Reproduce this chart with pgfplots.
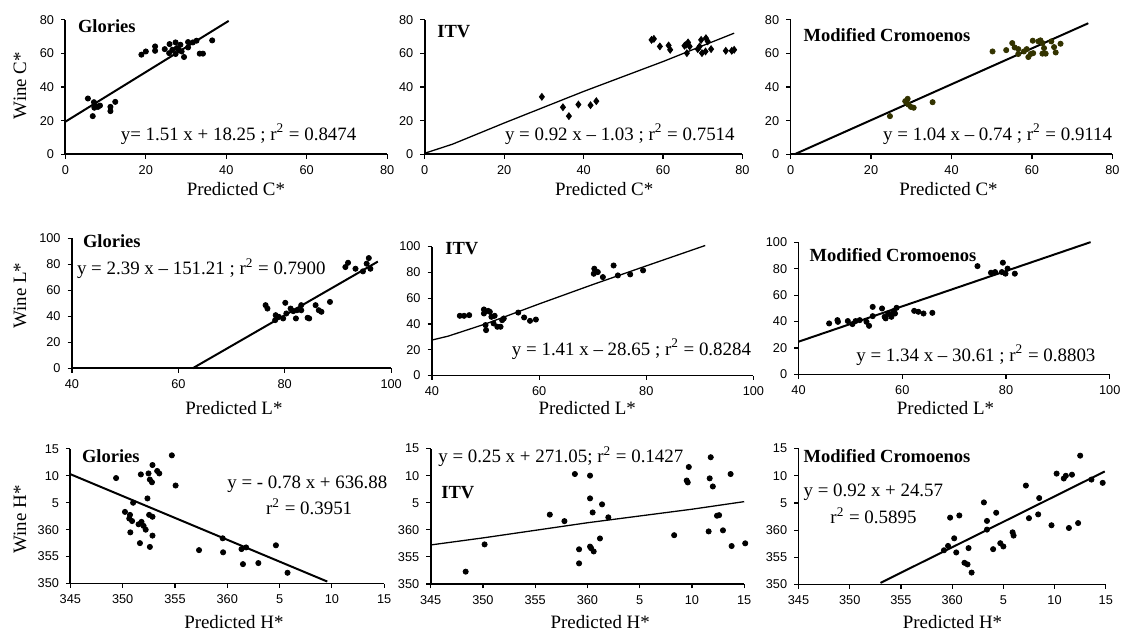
\documentclass[border=0pt]{standalone}
\usepackage{fontspec}
\setmainfont{Liberation Serif}
\setsansfont{Liberation Sans}
\usepackage{pgfplots}
\pgfplotsset{compat=1.18}
\definecolor{mcol}{RGB}{51,51,0}

\pgfplotsset{
  panel/.style={scale only axis, anchor=south west, clip=false,
    axis x line*=bottom, axis y line*=left,
    axis line style={-, line width=0.9pt},
    tick align=outside, major tick length=2.2pt,
    tick style={black, line width=0.6pt},
    ticklabel style={font=\sffamily\fontsize{6.4}{7}\selectfont},
    /pgf/number format/assume math mode=true},
  cpan/.style={panel, xmin=0, xmax=80, ymin=0, ymax=80, xtick={0,20,40,60,80}, ytick={0,20,40,60,80}},
  lpan/.style={panel, xmin=40, xmax=100, ymin=0, ymax=100, xtick={40,60,80,100}, ytick={0,20,40,60,80,100}},
  hpan/.style={panel, xmin=345, xmax=375, ymin=350, ymax=375,
    xtick={345,350,355,360,365,370,375}, xticklabels={345,350,355,360,5,10,15},
    ytick={350,355,360,365,370,375}, yticklabels={350,355,360,5,10,15}},
  pts/.style={only marks, mark=*, mark size=1.3pt, black},
  fit/.style={no marks, black, line width=1pt},
  thin fit/.style={no marks, black, line width=0.65pt},
}

\begin{document}
\begin{tikzpicture}
\path (0,0) rectangle (563.5pt,-317.5pt);

% ---- row 1: C*
\begin{axis}[cpan, at={(32.85pt,-77.5pt)}, width=161.65pt, height=67.5pt]
\addplot[pts] coordinates {(5.6,33.2)(7.1,31)(7.2,27.7)(8.1,28.2)(8.6,29)(6.8,22.7)(7.7,28.6)(11.2,28.2)(11.2,25.7)(12.4,31.2)(18.9,59.3)(20,61.2)(22.3,64.2)(22.3,61.6)(24.7,62.6)(25.9,65.6)(25.8,60.2)(26.6,62.2)(27.4,66.6)(27.7,63.2)(27.4,59.7)(28.2,62.2)(28.6,65.2)(28.9,61.2)(29.5,57.9)(30.5,66.8)(30.5,63.6)(31.7,66.6)(32.6,67.6)(33.4,59.9)(34.2,59.9)(36.5,67.8)};
\addplot[fit] coordinates {(0,19.4)(40.6,79.4)};
\end{axis}

\begin{axis}[cpan, at={(213.35pt,-77.5pt)}, width=159.65pt, height=67.5pt]
\addplot[pts, mark=diamond*, mark size=1.7pt] coordinates {(29.5,34.2)(34.8,28)(36.3,22.7)(38.7,29.6)(41.75,29.2)(43.2,31.6)(57.1,68.1)(57.7,68.7)(59.2,64.2)(61.4,64.8)(61.8,62.2)(66,60.2)(65.8,65.2)(66.3,66.6)(66.7,64.2)(65.4,64.6)(68.75,62.6)(69.6,68.1)(69.8,60.2)(70.7,61.2)(70.8,69.1)(71.25,67.2)(72.1,62.6)(69.2,64.2)(75.8,61.6)(77.3,61.6)(77.9,62.2)};
\addplot[thin fit] coordinates {(0,0.6)(7,6)(20,18.6)(40,37.4)(60,55.2)(77.9,72.1)};
\end{axis}

\begin{axis}[cpan, at={(397.15pt,-77.5pt)}, width=161.7pt, height=67.5pt]
\addplot[pts, mcol] coordinates {(24.7,22.7)(28.5,31.6)(29.1,33)(29.3,29.6)(29.9,28.2)(30.6,27.7)(28.9,30.6)(35.3,31)(50.2,61.2)(53.6,62)(55.1,66.2)(55.7,63.6)(56.6,62.6)(56.6,59.7)(58,61.2)(58.7,62.6)(59.1,57.9)(59.7,59.7)(60.3,60.2)(60.2,67.6)(61.6,67.2)(62.1,67.8)(62.6,66.2)(62.6,59.9)(63.4,59.9)(63,63.2)(64.8,67.2)(65.5,63.8)(65.9,60.6)(67.1,65.8)};
\addplot[fit] coordinates {(1,0)(74,78)};
\end{axis}

% ---- row 2: L*
\begin{axis}[lpan, at={(36.15pt,-185pt)}, width=160.35pt, height=65.35pt]
\addplot[pts] coordinates {(76.4,48.5)(76.75,45.9)(78.3,40.8)(78.2,37)(78.9,39.5)(79.7,38.3)(80.1,50.3)(80.3,42.1)(81.1,45.9)(81.6,43.9)(82.1,38.3)(82.3,44.6)(83.1,48.5)(83.1,44.6)(84.3,38.8)(84.6,38.3)(85.8,48.5)(86.4,44.6)(86.9,43.4)(88.5,51)(91.4,77.8)(91.9,81.1)(93.3,76.5)(94.7,74.5)(95.4,80.4)(95.8,84.7)(96.1,76.5)};
\addplot[fit] coordinates {(62.7,0)(97.5,82)};
\end{axis}

\begin{axis}[lpan, at={(217pt,-188.65pt)}, width=161.5pt, height=64.8pt]
\addplot[pts] coordinates {(45.2,46.3)(46,46.3)(46.95,46.8)(49.7,51.2)(49.7,48.1)(50.5,50.1)(50,39.1)(50.1,35.2)(50.8,49.4)(51.1,45.5)(51.5,40.4)(51.7,46.3)(52.2,37.8)(52.8,37.8)(53.1,42.9)(53.4,44.2)(56.1,48.8)(57.2,45)(58.3,42.4)(59.4,43.4)(70.2,78.9)(70.3,82.8)(70.95,80.2)(71.9,76.3)(73.9,85.3)(74.7,77.6)(77,78.4)(79.4,81.5)};
\addplot[thin fit] coordinates {(40,27.5)(43,30.5)(50,40)(60,55.5)(70,70.5)(80,85)(91,100.8)};
\end{axis}

\begin{axis}[lpan, at={(401.15pt,-188.15pt)}, width=156.35pt, height=66.5pt]
\addplot[pts] coordinates {(45.9,38.6)(47.6,39.8)(47.5,41.1)(49.5,40.4)(50.4,38.1)(51,40.4)(51.8,41.1)(53.1,39.8)(53.6,36.8)(54.3,51.1)(54.3,44.1)(56.1,49.9)(56.6,43.6)(56.8,42.4)(57.3,46.1)(57.8,44.9)(58.3,47.9)(58.6,46.1)(58.9,50.4)(57.9,43.6)(62.3,48.1)(63.1,47.4)(64.1,46.1)(65.8,46.6)(74.5,81.9)(77.1,76.9)(77.9,77.4)(79.4,84.5)(79.2,77.4)(79.9,76.2)(80.3,80)(81.7,76.2)};
\addplot[fit] coordinates {(40,24.8)(96.3,100)};
\end{axis}

% ---- row 3: H*
\begin{axis}[hpan, at={(35.35pt,-293.15pt)}, width=157.65pt, height=67.65pt]
\addplot[pts] coordinates {(349.37,369.58)(350.22,363.3)(350.7,362.75)(350.63,362.07)(350.9,361.6)(350.73,359.5)(351,365)(351.52,361)(351.8,361.45)(351.74,370.26)(351.65,357.5)(352,360.7)(352.2,360)(352.37,365.8)(352.47,370.44)(352.53,362.75)(352.6,369.3)(352.6,356.8)(352.8,368.8)(352.85,372)(352.85,362.4)(352.85,358.9)(353.3,370.9)(353.5,370.44)(354.7,373.8)(355.06,368.2)(357.3,356.2)(359.56,358.4)(359.6,355.8)(361.36,356.4)(361.5,353.6)(361.8,356.7)(362.97,353.8)(364.65,357.1)(365.76,352)};
\addplot[fit] coordinates {(345,370.3)(369.56,350.37)};
\end{axis}

\begin{axis}[hpan, at={(216.35pt,-293.35pt)}, width=157.5pt, height=68pt]
\addplot[pts] coordinates {(348.35,352.27)(350.16,357.3)(356.4,362.8)(357.8,361.6)(358.8,370.3)(359.2,356.4)(359.2,353.8)(360.25,370)(360.25,365.8)(360.25,356.9)(360.35,356.6)(360.5,363.2)(360.6,356)(361.2,358.4)(361.4,364.7)(362,362.3)(368.3,359)(369.5,369.1)(369.6,368.75)(369.7,371.6)(371.6,359.7)(371.7,369.5)(371.8,373.4)(372,368)(372.4,362.6)(372.6,362.7)(372.97,359.9)(373.7,370.3)(373.8,357)(375.1,357.5)};
\addplot[thin fit] coordinates {(345,357.2)(350,358.5)(360,361.3)(370,363.8)(375,365.2)};
\end{axis}

\begin{axis}[hpan, at={(401.15pt,-293.65pt)}, width=154.35pt, height=68.3pt]
\addplot[pts] coordinates {(359.2,356.3)(359.6,357.1)(359.8,362.3)(360.2,358.5)(360.4,355.9)(360.7,362.7)(361.2,354)(361.5,353.7)(361.6,356.7)(361.9,352.2)(363.1,365.1)(363.4,361.7)(363.4,360.1)(364,356.5)(364.3,363.2)(364.7,357.6)(365,357)(365.9,359.6)(366,359)(367.2,368.2)(367.5,362.2)(368.5,365.9)(368.4,362.9)(369.7,360.9)(370.2,370.4)(370.9,369.5)(371.1,370)(371.7,370.2)(371.4,360.4)(372.3,361.3)(372.5,373.7)(373.6,369.3)(374.7,368.7)};
\addplot[fit] coordinates {(353,350.3)(374.9,370.8)};
\end{axis}

% ---- text
\begin{scope}[x=0.5pt, y=-0.5pt, every node/.style={inner sep=0pt}]
\def\tit{\bfseries\fontsize{9.3}{10}\selectfont}
\def\eqf{\fontsize{9.5}{10}\selectfont}
\def\lab{\fontsize{9.5}{11}\selectfont}
% titles
\node[anchor=west] at (78,26) {\tit Glories};
\node[anchor=west] at (439,32) {\tit ITV};
\node[anchor=west] at (807,35) {\tit Modified Cromoenos};
\node[anchor=west] at (83,242) {\tit Glories};
\node[anchor=west] at (447,250) {\tit ITV};
\node[anchor=west] at (813,256) {\tit Modified Cromoenos};
\node[anchor=west] at (82,458) {\tit Glories};
\node[anchor=west] at (443,495) {\tit ITV};
\node[anchor=west] at (807,458) {\tit Modified Cromoenos};
% equations
\node[anchor=west] at (121,135) {\eqf y= 1.51 x + 18.25 ; r\textsuperscript{2} = 0.8474};
\node[anchor=west] at (507,135) {\eqf y = 0.92 x – 1.03 ; r\textsuperscript{2} = 0.7514};
\node[anchor=west] at (887,135) {\eqf y = 1.04 x – 0.74 ; r\textsuperscript{2} = 0.9114};
\node[anchor=west] at (77,270) {\eqf y = 2.39 x – 151.21 ; r\textsuperscript{2} = 0.7900};
\node[anchor=west] at (514,351) {\eqf y = 1.41 x – 28.65 ; r\textsuperscript{2} = 0.8284};
\node[anchor=west] at (860,357) {\eqf y = 1.34 x – 30.61 ; r\textsuperscript{2} = 0.8803};
\node[anchor=west] at (228,487) {\eqf y = - 0.78 x + 636.88};
\node[anchor=west] at (267,509) {\eqf r\textsuperscript{2} = 0.3951};
\node[anchor=west] at (440,459) {\eqf y = 0.25 x + 271.05; r\textsuperscript{2} = 0.1427};
\node[anchor=west] at (807,495) {\eqf y = 0.92 x + 24.57};
\node[anchor=west] at (834,518) {\eqf r\textsuperscript{2} = 0.5895};
% axis labels
\node[rotate=90] at (20,86) {\lab Wine C*};
\node[rotate=90] at (20,297) {\lab Wine L*};
\node[rotate=90] at (20,522) {\lab Wine H*};
\node at (237,190) {\lab Predicted C*};
\node at (607,190) {\lab Predicted C*};
\node at (953,190) {\lab Predicted C*};
\node at (235,410) {\lab Predicted L*};
\node at (590,410) {\lab Predicted L*};
\node at (950,410) {\lab Predicted L*};
\node at (235,625) {\lab Predicted H*};
\node at (603,625) {\lab Predicted H*};
\node at (957,625) {\lab Predicted H*};
\end{scope}
\end{tikzpicture}
\end{document}
